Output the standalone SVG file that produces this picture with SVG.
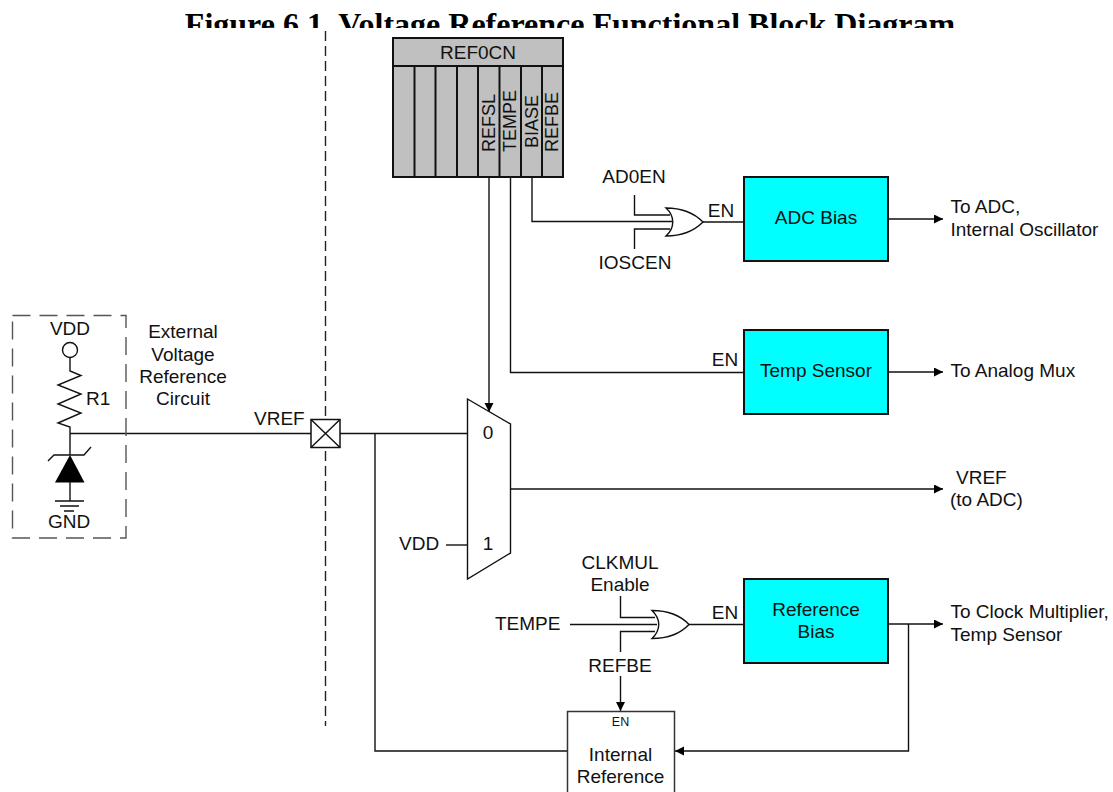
<svg xmlns="http://www.w3.org/2000/svg" width="1113" height="792" viewBox="0 0 1113 792">
<style>
text{font-family:"Liberation Sans",Arial,sans-serif;font-size:19px;fill:#111}
.m{text-anchor:middle}
.title{font-family:"Liberation Serif","Times New Roman",serif;font-weight:bold;font-size:32px;fill:#000}
.s{font-size:12.5px}
.r{font-size:18px}
.w{fill:none;stroke:#111;stroke-width:1.4}
.dash{fill:none;stroke:#222;stroke-width:1.4;stroke-dasharray:10 5}
.dash2{fill:none;stroke:#555;stroke-width:1.4;stroke-dasharray:18 9}
.reg{fill:#c0c0c0;stroke:#111;stroke-width:2}
.blk{fill:#00ffff;stroke:#111;stroke-width:2}
.box{fill:#fff;stroke:#333;stroke-width:1.5}
</style>
<defs>
<marker id="a" markerWidth="10" markerHeight="10" refX="9" refY="4.500" orient="auto" markerUnits="userSpaceOnUse"><path d="M0 0L9 4.500L0 9z" fill="#000"/></marker>
<clipPath id="t"><rect x="0" y="0" width="1113" height="28"/></clipPath>
</defs>
<rect width="1113" height="792" fill="#fff"/>
<text id="title" class="title m" x="570" y="34.500" clip-path="url(#t)">Figure 6.1. Voltage Reference Functional Block Diagram</text>

<g id="connectors">
<path class="dash" d="M325.500 31V726"/>
<path class="w" d="M70 433.500H311M340 433.500H467"/>
<path class="w" marker-end="url(#a)" d="M489 177V412"/>
<path class="w" d="M510.500 177V372.500H744"/>
<path class="w" d="M532 177V221.500H672"/>
<path class="w" d="M634.500 195V215H670M634.500 249V229H670"/>
<path class="w" d="M703 222H744"/>
<path class="w" marker-end="url(#a)" d="M888 219H943"/>
<path class="w" marker-end="url(#a)" d="M888 372H943"/>
<path class="w" marker-end="url(#a)" d="M510 489H943"/>
<path class="w" d="M446 545H467"/>
<path class="w" d="M375 433.500V751H567"/>
<path class="w" d="M620.500 596V617.500H655M620.500 652V631.500H655M570 624.500H657"/>
<path class="w" d="M689 624.500H744"/>
<path class="w" marker-end="url(#a)" d="M888 624H943"/>
<path class="w" marker-end="url(#a)" d="M908.500 624V751H675"/>
<path class="w" marker-end="url(#a)" d="M620.500 676V711"/>
</g>

<g id="ref0cn">
<rect class="reg" x="393" y="38" width="170" height="139"/>
<path class="w" style="stroke-width:2" d="M393 66H563M414.500 66V177M435.500 66V177M457 66V177M478 66V177M499.500 66V177M521 66V177M542 66V177"/>
<text class="m" x="478" y="59">REF0CN</text>
<text class="r" transform="translate(494.500 152) rotate(-90)">REFSL</text>
<text class="r" transform="translate(516 152) rotate(-90)">TEMPE</text>
<text class="r" transform="translate(537.500 148) rotate(-90)">BIASE</text>
<text class="r" transform="translate(558 152) rotate(-90)">REFBE</text>
</g>

<g id="or-bias">
<path fill="#fff" stroke="#111" stroke-width="1.4" d="M666 208C682 208 694 213 703 222C694 231 682 236 666 236C675 228 675 216 666 208z"/>
<text class="m" x="634" y="183">AD0EN</text>
<text class="m" x="635" y="269">IOSCEN</text>
<text class="m" x="721" y="217">EN</text>
</g>

<g id="adc-bias">
<rect class="blk" x="744" y="177" width="144" height="84"/>
<text class="m" x="816" y="224">ADC Bias</text>
<text x="950.500" y="213">To ADC,</text>
<text x="950.500" y="236">Internal Oscillator</text>
</g>

<g id="temp-sensor">
<rect class="blk" x="744" y="330" width="144" height="84"/>
<text class="m" x="816" y="377">Temp Sensor</text>
<text class="m" x="725" y="366">EN</text>
<text x="950.500" y="377">To Analog Mux</text>
</g>

<g id="mux">
<path fill="#fff" stroke="#111" stroke-width="1.4" d="M467.500 399L510.500 424V553L467.500 579z"/>
<text class="m" x="488" y="439">0</text>
<text class="m" x="488" y="550">1</text>
<text x="399" y="550">VDD</text>
</g>

<g id="vref-out">
<text x="956" y="484">VREF</text>
<text x="950" y="506">(to ADC)</text>
</g>

<g id="vref-pin">
<rect x="311" y="419.500" width="29" height="28" fill="#fff" stroke="#111" stroke-width="1.5"/>
<path class="w" d="M311 419.500L340 447.500M340 419.500L311 447.500"/>
<text x="254" y="425">VREF</text>
</g>

<g id="external-circuit">
<path class="dash2" d="M12.500 315.500H126V538H12.500z"/>
<circle cx="70" cy="350" r="7.500" fill="#fff" stroke="#111" stroke-width="1.4"/>
<path class="w" d="M70 357.500V371L81 375.500L58 385L81 394L58 404L81 413L58 423L70 427V455M48 461L54 455H84L91 447"/>
<path d="M70 455L84.500 482.500H55z" fill="#000"/>
<path class="w" d="M70 482V501M55 501H84M60 506H79M64 511H74"/>
<text class="m" x="70" y="335">VDD</text>
<text x="86" y="405">R1</text>
<text class="m" x="69" y="528">GND</text>
<text class="m" x="183" y="338">External</text>
<text class="m" x="183" y="361">Voltage</text>
<text class="m" x="183" y="383">Reference</text>
<text class="m" x="183" y="405">Circuit</text>
</g>

<g id="or-ref">
<path fill="#fff" stroke="#111" stroke-width="1.4" d="M652 610.500C668 610.500 680 615 689 624.500C680 634 668 638.500 652 638.500C661 630 661 619 652 610.500z"/>
<text class="m" x="620" y="569">CLKMUL</text>
<text class="m" x="620" y="591">Enable</text>
<text x="495" y="630">TEMPE</text>
<text class="m" x="620" y="672">REFBE</text>
<text class="m" x="725" y="619">EN</text>
</g>

<g id="reference-bias">
<rect class="blk" x="744" y="579" width="144" height="84"/>
<text class="m" x="816" y="616">Reference</text>
<text class="m" x="816" y="638">Bias</text>
<text x="950.500" y="618">To Clock Multiplier,</text>
<text x="950.500" y="641">Temp Sensor</text>
</g>

<g id="internal-reference">
<rect class="box" x="567.500" y="711.500" width="107" height="90"/>
<text class="m s" x="620.500" y="726">EN</text>
<text class="m" x="620.500" y="761">Internal</text>
<text class="m" x="620.500" y="783">Reference</text>
</g>
</svg>
